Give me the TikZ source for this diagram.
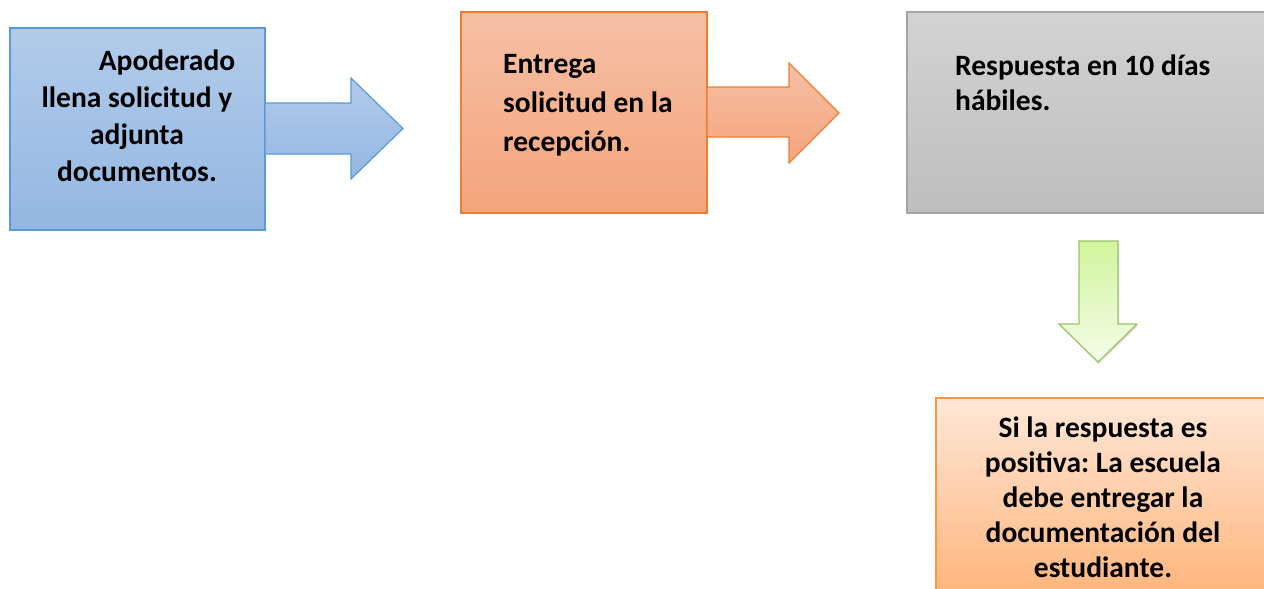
\documentclass[tikz,border=0pt]{standalone}
\usepackage{fontspec}
\setmainfont{Carlito}
\frenchspacing
\usetikzlibrary{shadows}
\definecolor{blueT}{HTML}{B2CBEA}
\definecolor{blueB}{HTML}{93B7E2}
\definecolor{blueD}{HTML}{5B9BD5}
\definecolor{oraT}{HTML}{F6C0A5}
\definecolor{oraB}{HTML}{F4A47C}
\definecolor{oraD}{HTML}{ED7D31}
\definecolor{greyT}{HTML}{D3D3D3}
\definecolor{greyB}{HTML}{BEBEBE}
\definecolor{greyD}{HTML}{A5A5A5}
\definecolor{grnT}{HTML}{D2F59C}
\definecolor{grnB}{HTML}{F4FDEA}
\definecolor{grnD}{HTML}{9BC462}
\definecolor{peaT}{HTML}{FFE8D8}
\definecolor{peaB}{HTML}{FFB47A}
\definecolor{peaD}{HTML}{F79646}
\begin{document}
\begin{tikzpicture}[x=1pt,y=-1pt,
  txt/.style={font=\bfseries\fontsize{29.5}{37}\selectfont, inner sep=0pt},
  shp/.style={line width=1.2pt, line join=miter},
  bluefill/.style={shp, top color=blueT, bottom color=blueB, draw=blueD},
  orafill/.style={shp, top color=oraT, bottom color=oraB, draw=oraD},
  greyfill/.style={shp, top color=greyT, bottom color=greyB, draw=greyD},
  grnfill/.style={shp, top color=grnT, bottom color=grnB, draw=grnD},
  peafill/.style={shp, top color=peaT, bottom color=peaB, draw=peaD},
  boxnode/.style={rectangle, inner sep=0pt}]
\useasboundingbox (0,0) rectangle (1264,589);
\begin{scope}
\clip (0,0) rectangle (1264,589);
% blue box and arrow
\node[boxnode, bluefill, minimum width=255pt, minimum height=202pt] (b1) at (137.5,129) {};
\path[bluefill] (265,103) -- (351,103) -- (351,78) -- (403,128.5) -- (351,179) -- (351,154) -- (265,154) -- cycle;
% orange box and arrow
\node[boxnode, orafill, minimum width=246pt, minimum height=201pt] (b2) at (584,112.5) {};
\path[orafill] (707,87) -- (789,87) -- (789,63) -- (839,113) -- (789,163) -- (789,137) -- (707,137) -- cycle;
% grey box
\node[boxnode, greyfill, minimum width=360pt, minimum height=201pt] (b3) at (1087,112.5) {};
% green arrow
\path[grnfill, drop shadow={opacity=0.25, shadow xshift=1pt, shadow yshift=-2pt}] (1079,241) -- (1118,241) -- (1118,324) -- (1137,324) -- (1098,362) -- (1059,324) -- (1079,324) -- cycle;
% peach box
\node[boxnode, peafill, minimum width=332pt, minimum height=200pt] (b4) at (1102,498) {};
\end{scope}
% texts (base anchor = baseline of last line)
\node[txt, anchor=base, align=center] (t1) at (137,181) {\hspace*{30pt}Apoderado\hspace*{-30pt}\\llena solicitud y\\adjunta\\documentos.};
\node[txt, font=\bfseries\fontsize{29.5}{39}\selectfont, anchor=base west, align=left] (t2) at (503,151) {Entrega\\solicitud en la\\recepción.};
\node[txt, font=\bfseries\fontsize{29.5}{35}\selectfont, anchor=base west, align=left] (t3) at (955,110) {Respuesta en 10 días\\hábiles.};
\node[txt, font=\bfseries\fontsize{29.5}{35}\selectfont, anchor=base, align=center] (t4) at (1103,577) {Si la respuesta es\\positiva: La escuela\\debe entregar la\\documentación del\\estudiante.};
\end{tikzpicture}
\end{document}
